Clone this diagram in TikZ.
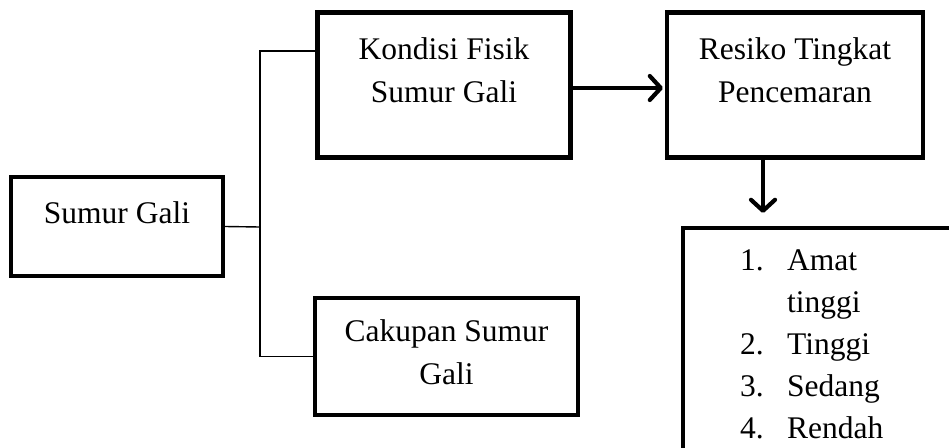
\documentclass[tikz,border=0pt]{standalone}
\usepackage{fontspec}
\setmainfont{Liberation Serif}
\usetikzlibrary{arrows.meta,calc}
\begin{document}
\begin{tikzpicture}[x=1pt,y=-1pt,
  box/.style={draw,line width=4.2pt,rectangle,inner sep=0pt},
  lbl/.style={anchor=base,inner sep=0pt,font=\fontsize{31.5}{40}\selectfont},
  link/.style={line width=1.4pt},
  flow/.style={line width=4.2pt,-{Straight Barb[length=11pt,width=24pt,round]}}]
\useasboundingbox (0,0) rectangle (949,447);
\clip (0,0) rectangle (949,447);
% boxes
\node[box,minimum width=212pt,minimum height=99pt] (sumur) at (117,226.5) {};
\node[box,minimum width=253pt,minimum height=145pt] (kondisi) at (444,85) {};
\node[box,minimum width=256pt,minimum height=145pt] (resiko) at (795,85) {};
\node[box,minimum width=263pt,minimum height=117pt] (cakupan) at (446.5,356.5) {};
\node[box,minimum width=320pt,minimum height=280pt] (hasil) at (843,368) {};
% box texts
\node[lbl] (t1) at (117,223) {Sumur Gali};
\node[lbl] (t2) at (444,59) {Kondisi Fisik};
\node[lbl] (t3) at (444,102) {Sumur Gali};
\node[lbl] (t4) at (795,59) {Resiko Tingkat};
\node[lbl] (t5) at (795,102) {Pencemaran};
\node[lbl] (t6) at (446.5,341) {Cakupan Sumur};
\node[lbl] (t7) at (446.5,384) {Gali};
% list of levels
\node[lbl,anchor=base west] (n1) at (740,270) {1.};
\node[lbl,anchor=base west] (l1) at (787,270) {Amat};
\node[lbl,anchor=base west] (l1b) at (787,312) {tinggi};
\node[lbl,anchor=base west] (n2) at (740,354) {2.};
\node[lbl,anchor=base west] (l2) at (787,354) {Tinggi};
\node[lbl,anchor=base west] (n3) at (740,396) {3.};
\node[lbl,anchor=base west] (l3) at (787,396) {Sedang};
\node[lbl,anchor=base west] (n4) at (740,438) {4.};
\node[lbl,anchor=base west] (l4) at (787,438) {Rendah};
% branching connector
\coordinate (fork) at (260,227);
\draw[link] (sumur.east) -- (fork);
\draw[link] (kondisi.west |- 0,51) -- (fork |- 0,51) -- (fork |- cakupan.west) -- (cakupan.west);
% arrows
\draw[flow] (kondisi.east |- 0,88) -- ($(resiko.west |- 0,88)+(-2,0)$);
\coordinate (drop) at (763,0);
\draw[flow] (drop |- resiko.south) -- ($(drop |- hasil.north)+(0,-13)$);
\end{tikzpicture}
\end{document}
